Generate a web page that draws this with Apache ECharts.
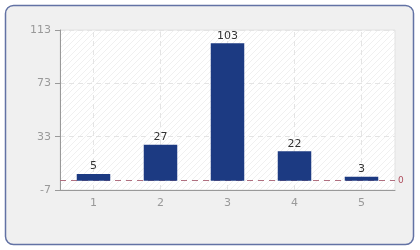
<!DOCTYPE html>
<html><head><meta charset="utf-8">
<script src="https://cdn.jsdelivr.net/npm/echarts@6/dist/echarts.min.js"></script>
<style>html,body{margin:0;padding:0;background:#fff}#c{width:420px;height:250px}</style>
</head><body><div id="c"></div>
<script>
var categories = ['1','2','3','4','5'];
var values = [5, 27, 103, 22, 3];
var yMin = -7, yMax = 113, yStep = 40;
var refLine = 0;

var pc = document.createElement('canvas');
pc.width = 6; pc.height = 6;
var ctx = pc.getContext('2d');
ctx.fillStyle = '#ffffff'; ctx.fillRect(0,0,6,6);
ctx.strokeStyle = '#f0f0f0'; ctx.lineWidth = 1;
ctx.beginPath(); ctx.moveTo(0,6); ctx.lineTo(6,0); ctx.moveTo(-1,1); ctx.lineTo(1,-1); ctx.moveTo(5,7); ctx.lineTo(7,5); ctx.stroke();

var chart = echarts.init(document.getElementById('c'), null, {renderer:'canvas'});
var font = 'DejaVu Sans';
chart.setOption({
  animation: false,
  backgroundColor: '#ffffff',
  graphic: [{type:'rect', z:-10, shape:{x:5.5,y:5.5,width:408,height:239,r:8},
    style:{fill:'#f0f0f0', stroke:'#6272a4', lineWidth:1.5}}],
  grid: {left:60, right:25, top:30, bottom:60, show:true, backgroundColor:{image:pc, repeat:'repeat'}, borderColor:'#e2e2e2', borderWidth:1},
  xAxis: {type:'category', data:categories,
    axisLine:{onZero:false, lineStyle:{color:'#999', width:1}},
    axisTick:{alignWithLabel:true, length:5, lineStyle:{color:'#999'}},
    axisLabel:{color:'#999', fontFamily:font, fontSize:11, margin:8},
    splitLine:{show:false}
  },
  yAxis: [
    {type:'value', min:yMin, max:yMax, show:false, splitLine:{show:false}},
    {type:'value', position:'left', min:0, max:yMax-yMin, interval:yStep,
      axisLine:{show:true, onZero:false, lineStyle:{color:'#999'}},
      axisTick:{show:true, length:5, lineStyle:{color:'#999'}},
      axisLabel:{color:'#999', fontFamily:font, fontSize:11, margin:9, formatter:function(v){return String(v+yMin);}},
      splitLine:{show:true, lineStyle:{color:'#e4e4e4', type:[5,4]}}
    }
  ],
  series: [
    {type:'line', yAxisIndex:0, data:[], z:0, silent:true,
      markLine:{symbol:'none', silent:true, z:0, label:{show:false},
        lineStyle:{color:'#e4e4e4', type:[5,4], width:1},
        data: categories.map(function(c){return {xAxis:c};})}
    },
    {type:'line', yAxisIndex:0, data:[], z:1, silent:true,
      markLine:{symbol:'none', silent:true, z:1,
        lineStyle:{color:'#b07080', type:[6,5], width:1},
        label:{position:'end', color:'#b05060', fontFamily:font, fontSize:9, formatter:'{c}', distance:3},
        data:[{yAxis:refLine}]}
    },
    {type:'bar', yAxisIndex:0, data:values, barWidth:'50%', z:2,
      itemStyle:{color:'#1c3a82'},
      label:{show:true, position:'top', color:'#333', fontFamily:font, fontSize:11, distance:2}
    }
  ]
});
</script></body></html>
